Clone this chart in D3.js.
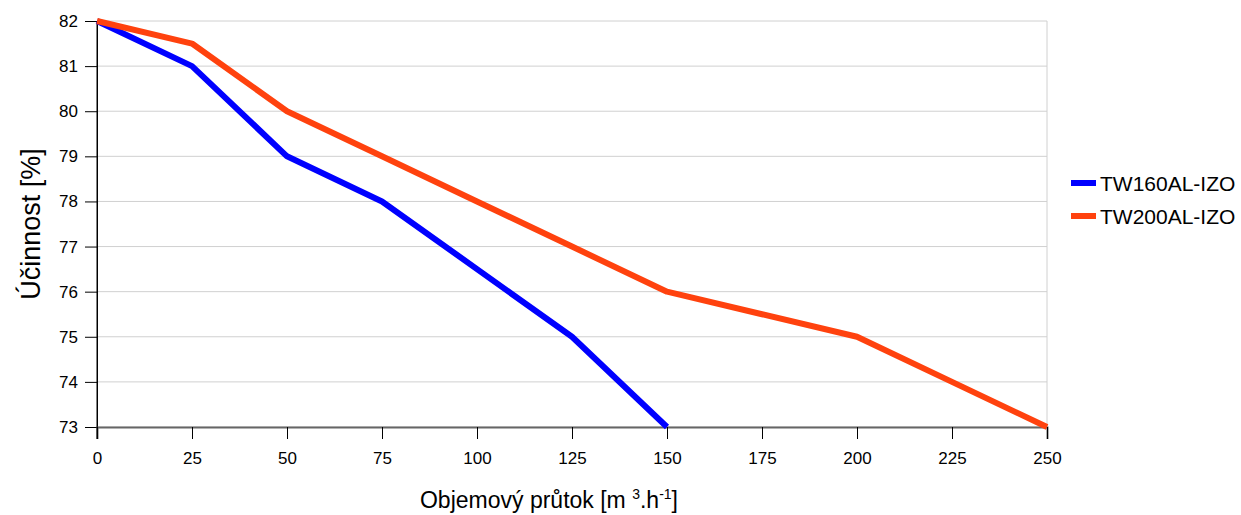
<!DOCTYPE html>
<html>
<head>
<meta charset="utf-8">
<script src="https://cdn.jsdelivr.net/npm/d3@7"></script>
<style>
  body { margin: 0; background: #fff; }
  svg { font-family: "Liberation Sans", Arial, sans-serif; }
</style>
</head>
<body>
<svg id="chart" width="1241" height="515"></svg>
<script>
// chart data
const flowTicks = [0, 25, 50, 75, 100, 125, 150, 175, 200, 225, 250];
const effTicks = [73, 74, 75, 76, 77, 78, 79, 80, 81, 82];
const tw160Flow = [0, 25, 50, 75, 100, 125, 150];
const tw160Eff = [82, 81, 79, 78, 76.5, 75, 73];
const tw200Flow = [0, 25, 50, 75, 100, 125, 150, 175, 200, 225, 250];
const tw200Eff = [82, 81.5, 80, 79, 78, 77, 76, 75.5, 75, 74, 73];
const seriesNames = ["TW160AL-IZO", "TW200AL-IZO"];
const seriesColors = ["#0000ff", "#ff420e"];

const svg = d3.select("#chart");
const plotL = 97, plotR = 1047, plotT = 21, plotB = 427;

const x = d3.scaleLinear().domain([0, 250]).range([plotL, plotR]);
const y = d3.scaleLinear().domain([73, 82]).range([plotB, plotT]);

// horizontal grid
svg.append("g").selectAll("line")
    .data(effTicks)
    .join("line")
    .attr("x1", plotL).attr("x2", plotR)
    .attr("y1", d => y(d)).attr("y2", d => y(d))
    .attr("stroke", "#d0d0d0").attr("stroke-width", 1);

// right border
svg.append("line")
    .attr("x1", plotR).attr("x2", plotR)
    .attr("y1", plotT).attr("y2", plotB)
    .attr("stroke", "#d0d0d0");

// y axis
const yAxis = svg.append("g")
    .attr("transform", `translate(${plotL},0)`)
    .call(d3.axisLeft(y).tickValues(effTicks).tickSize(12).tickPadding(7));
yAxis.select(".domain").attr("stroke", "#000");
yAxis.selectAll(".tick line").attr("stroke", "#000");
yAxis.selectAll("text").attr("font-size", 17).attr("fill", "#000");

// x axis
const xAxis = svg.append("g")
    .attr("transform", `translate(0,${plotB})`)
    .call(d3.axisBottom(x).tickValues(flowTicks).tickSize(12).tickPadding(13));
xAxis.select(".domain").attr("stroke", "#666").attr("stroke-width", 2);
xAxis.selectAll(".tick line").attr("stroke", "#000");
xAxis.selectAll("text").attr("font-size", 17).attr("fill", "#000");

// y axis vertical line on top
svg.append("line")
    .attr("x1", plotL).attr("x2", plotL)
    .attr("y1", plotT).attr("y2", plotB + 12)
    .attr("stroke", "#000");

// lines
const line = d3.line().x(d => x(d[0])).y(d => y(d[1]));
const series = [
    d3.zip(tw160Flow, tw160Eff),
    d3.zip(tw200Flow, tw200Eff)
];
series.forEach((pts, i) => {
    svg.append("path")
        .datum(pts)
        .attr("d", line)
        .attr("fill", "none")
        .attr("stroke", seriesColors[i])
        .attr("stroke-width", 6)
        .attr("stroke-linejoin", "round");
});

// axis titles
svg.append("text")
    .attr("transform", `translate(40,${(plotT + plotB) / 2}) rotate(-90)`)
    .attr("text-anchor", "middle")
    .attr("font-size", 27)
    .text("Účinnost [%]");

const xt = svg.append("text")
    .attr("x", 549).attr("y", 508)
    .attr("text-anchor", "middle")
    .attr("font-size", 23)
    .text("Objemový průtok [m ");
xt.append("tspan").attr("font-size", 14).attr("dy", -9).text("3");
xt.append("tspan").attr("dy", 9).text(".h");
xt.append("tspan").attr("font-size", 14).attr("dy", -9).text("-1");
xt.append("tspan").attr("dy", 9).text("]");

// legend
const legend = svg.append("g");
seriesNames.forEach((name, i) => {
    const ly = 183 + i * 33;
    legend.append("line")
        .attr("x1", 1071).attr("x2", 1096)
        .attr("y1", ly).attr("y2", ly)
        .attr("stroke", seriesColors[i]).attr("stroke-width", 6);
    legend.append("text")
        .attr("x", 1100).attr("y", ly + 8)
        .attr("font-size", 21)
        .text(name);
});
</script>
</body>
</html>
